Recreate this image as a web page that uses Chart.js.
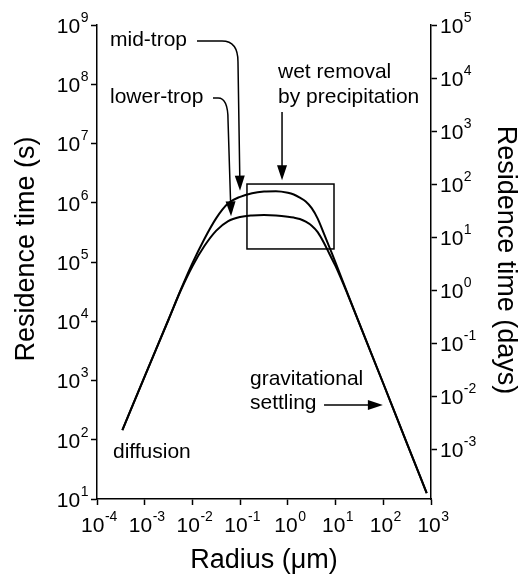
<!DOCTYPE html>
<html>
<head>
<meta charset="utf-8">
<title>Aerosol residence time</title>
<script src="https://cdn.jsdelivr.net/npm/chart.js@4.4.1/dist/chart.umd.min.js"></script>
<style>
  html, body { margin: 0; padding: 0; background: #fff; }
  #chart { display: block; }
</style>
</head>
<body>
<canvas id="chart" width="526" height="579"></canvas>
<script>
// particle radius (µm) where both curves are sampled
const radius = [3.4e-4, 1e-3, 3.16e-3, 5.62e-3, 1e-2, 1.78e-2, 3.16e-2, 5.62e-2, 0.1, 0.178, 0.316, 0.562,
                1, 1.33, 1.78, 2.37, 3.16, 4.22, 5.62, 7.5, 10, 17.8, 31.6, 100, 316, 813];

// residence time (s)
const midTrop   = [146, 1175, 1.07e4, 3.31e4, 9.55e4, 2.45e5, 5.5e5, 9.77e5, 1.26e6, 1.45e6, 1.55e6, 1.57e6,
                   1.48e6, 1.38e6, 1.22e6, 1.05e6, 8.1e5, 5.4e5, 3.1e5, 1.74e5, 9.8e4, 2.95e4, 9.1e3, 890, 85, 12.6];
const lowerTrop = [146, 1175, 1.07e4, 3.24e4, 8.5e4, 1.86e5, 3.39e5, 4.9e5, 5.75e5, 6.1e5, 6.21e5, 6.1e5,
                   5.82e5, 5.62e5, 5.31e5, 4.79e5, 4.1e5, 3.2e5, 2.16e5, 1.35e5, 8.5e4, 2.88e4, 9.1e3, 890, 85, 12.6];

const radiusTicks  = [1e-4, 1e-3, 1e-2, 1e-1, 1e0, 1e1, 1e2, 1e3];
const secondsTicks = [1e1, 1e2, 1e3, 1e4, 1e5, 1e6, 1e7, 1e8, 1e9];
const daysTicks    = [1e-3, 1e-2, 1e-1, 1e0, 1e1, 1e2, 1e3, 1e4, 1e5];

// wet removal region, in radius / seconds
const wetBox = { r0: 0.139, r1: 9.27, t0: 1.66e5, t1: 2.07e6 };

// text labels: left edge and vertical middle, in radius / seconds
const notes = [
  { text: "mid-trop",         r: 1.87e-4, t: 5.58e8 },
  { text: "lower-trop",       r: 1.87e-4, t: 6.1e7 },
  { text: "wet removal",      r: 0.622,   t: 1.61e8 },
  { text: "by precipitation", r: 0.622,   t: 6.1e7 },
  { text: "gravitational",    r: 0.161,   t: 1.06e3 },
  { text: "settling",         r: 0.161,   t: 417 },
  { text: "diffusion",        r: 2.16e-4, t: 62 }
];

// arrows: start, [bend start, bend control, bend end], tip
const arrows = [
  [[0.01247, 5.37e8], [0.0417, 5.37e8], [0.0901, 5.37e8], [0.0901, 2.4e8], [0.0993, 1.6e6]],
  [[0.02698, 5.86e7], [0.0345, 5.86e7], [0.0557, 5.86e7], [0.0557, 2.5e7], [0.0644, 5.9e5]],
  [[0.755, 3.41e7], [0.755, 2.4e6]],
  [[5.73, 386], [98, 386]]
];

const FONT = '"Liberation Sans", Arial, Helvetica, sans-serif';

function drawPower(ctx, v, x, y, align) {
  const base = "10";
  const sup = String(Math.round(Math.log10(v)));
  ctx.font = "21px " + FONT;
  const wb = ctx.measureText(base).width;
  ctx.font = "14px " + FONT;
  const ws = ctx.measureText(sup).width;
  let x0 = x;
  if (align === "right") x0 = x - wb - ws;
  else if (align === "center") x0 = x - (wb + ws) / 2;
  ctx.textAlign = "left";
  ctx.textBaseline = "middle";
  ctx.font = "21px " + FONT;
  ctx.fillText(base, x0, y);
  ctx.font = "14px " + FONT;
  ctx.fillText(sup, x0 + wb + 0.5, y - 9);
}

function arrowHead(ctx, x, y, fromX, fromY) {
  const a = Math.atan2(y - fromY, x - fromX);
  const len = 15, half = 5;
  ctx.beginPath();
  ctx.moveTo(x, y);
  ctx.lineTo(x - len * Math.cos(a) + half * Math.sin(a), y - len * Math.sin(a) - half * Math.cos(a));
  ctx.lineTo(x - len * Math.cos(a) - half * Math.sin(a), y - len * Math.sin(a) + half * Math.cos(a));
  ctx.closePath();
  ctx.fill();
}

const extras = {
  id: "extras",
  afterDraw(chart) {
    const ctx = chart.ctx;
    const sx = chart.scales.x, sy = chart.scales.y, sd = chart.scales.yDays;
    const P = (r, t) => [sx.getPixelForValue(r), sy.getPixelForValue(t)];
    ctx.save();
    ctx.fillStyle = "#000";
    ctx.strokeStyle = "#000";

    // tick labels
    sy.ticks.forEach(t => drawPower(ctx, t.value, sy.right - 9, sy.getPixelForValue(t.value) + 2, "right"));
    sd.ticks.forEach(t => drawPower(ctx, t.value, sd.left + 9, sd.getPixelForValue(t.value) + 2, "left"));
    sx.ticks.forEach(t => drawPower(ctx, t.value, sx.getPixelForValue(t.value) + 2, sx.top + 27, "center"));

    // axis titles
    ctx.font = "27px " + FONT;
    ctx.textAlign = "center";
    ctx.textBaseline = "alphabetic";
    ctx.fillText("Radius (\u03bcm)", (chart.chartArea.left + chart.chartArea.right) / 2, 568);
    ctx.save();
    ctx.translate(34, 249);
    ctx.rotate(-Math.PI / 2);
    ctx.fillText("Residence time (s)", 0, 0);
    ctx.restore();
    ctx.save();
    ctx.translate(498, 260);
    ctx.rotate(Math.PI / 2);
    ctx.fillText("Residence time (days)", 0, 0);
    ctx.restore();

    // wet removal box
    const [bx0, by1] = P(wetBox.r0, wetBox.t1);
    const [bx1, by0] = P(wetBox.r1, wetBox.t0);
    ctx.lineWidth = 1.5;
    ctx.strokeRect(bx0, by1, bx1 - bx0, by0 - by1);

    // labels
    ctx.font = "21px " + FONT;
    ctx.textAlign = "left";
    ctx.textBaseline = "middle";
    notes.forEach(n => {
      const [x, y] = P(n.r, n.t);
      ctx.fillText(n.text, x, y);
    });

    // arrows
    ctx.lineWidth = 1.5;
    arrows.forEach(a => {
      const pts = a.map(p => P(p[0], p[1]));
      const tip = pts[pts.length - 1];
      const prev = pts[pts.length - 2];
      ctx.beginPath();
      ctx.moveTo(pts[0][0], pts[0][1]);
      if (pts.length === 5) {
        ctx.lineTo(pts[1][0], pts[1][1]);
        ctx.quadraticCurveTo(pts[2][0], pts[2][1], pts[3][0], pts[3][1]);
      }
      const back = 12 / Math.hypot(tip[0] - prev[0], tip[1] - prev[1]);
      ctx.lineTo(tip[0] - (tip[0] - prev[0]) * back, tip[1] - (tip[1] - prev[1]) * back);
      ctx.stroke();
      arrowHead(ctx, tip[0], tip[1], prev[0], prev[1]);
    });
    ctx.restore();
  }
};

const axisLine = { display: true, color: "#000", width: 1.5 };
const tickMarks = { display: true, drawOnChartArea: false, drawTicks: true, tickLength: 6, tickColor: "#000", tickWidth: 1.5 };

function curve(label, values) {
  return {
    label: label,
    data: radius.map((r, i) => ({ x: r, y: values[i] })),
    borderColor: "#000",
    borderWidth: 2,
    pointRadius: 0,
    cubicInterpolationMode: "monotone",
    yAxisID: "y"
  };
}

new Chart(document.getElementById("chart"), {
  type: "line",
  data: {
    datasets: [curve("mid-trop", midTrop), curve("lower-trop", lowerTrop)]
  },
  options: {
    responsive: false,
    animation: false,
    devicePixelRatio: 1,
    layout: { padding: { top: 25, left: 0, right: 0, bottom: 0 } },
    plugins: { legend: { display: false }, tooltip: { enabled: false } },
    scales: {
      x: {
        type: "logarithmic",
        position: "bottom",
        min: 1e-4,
        max: 1e3,
        afterBuildTicks: s => { s.ticks = radiusTicks.map(v => ({ value: v })); },
        afterFit: s => { s.height = 80; },
        ticks: { display: false },
        grid: tickMarks,
        border: axisLine
      },
      y: {
        type: "logarithmic",
        position: "left",
        min: 10,
        max: 1e9,
        afterBuildTicks: s => { s.ticks = secondsTicks.map(v => ({ value: v })); },
        afterFit: s => { s.width = 97; },
        ticks: { display: false },
        grid: tickMarks,
        border: axisLine
      },
      yDays: {
        type: "logarithmic",
        position: "right",
        min: 1.14e-4,
        max: 1e5,
        afterBuildTicks: s => { s.ticks = daysTicks.map(v => ({ value: v })); },
        afterFit: s => { s.width = 95; },
        ticks: { display: false },
        grid: tickMarks,
        border: axisLine
      }
    }
  },
  plugins: [extras]
});
</script>
</body>
</html>
